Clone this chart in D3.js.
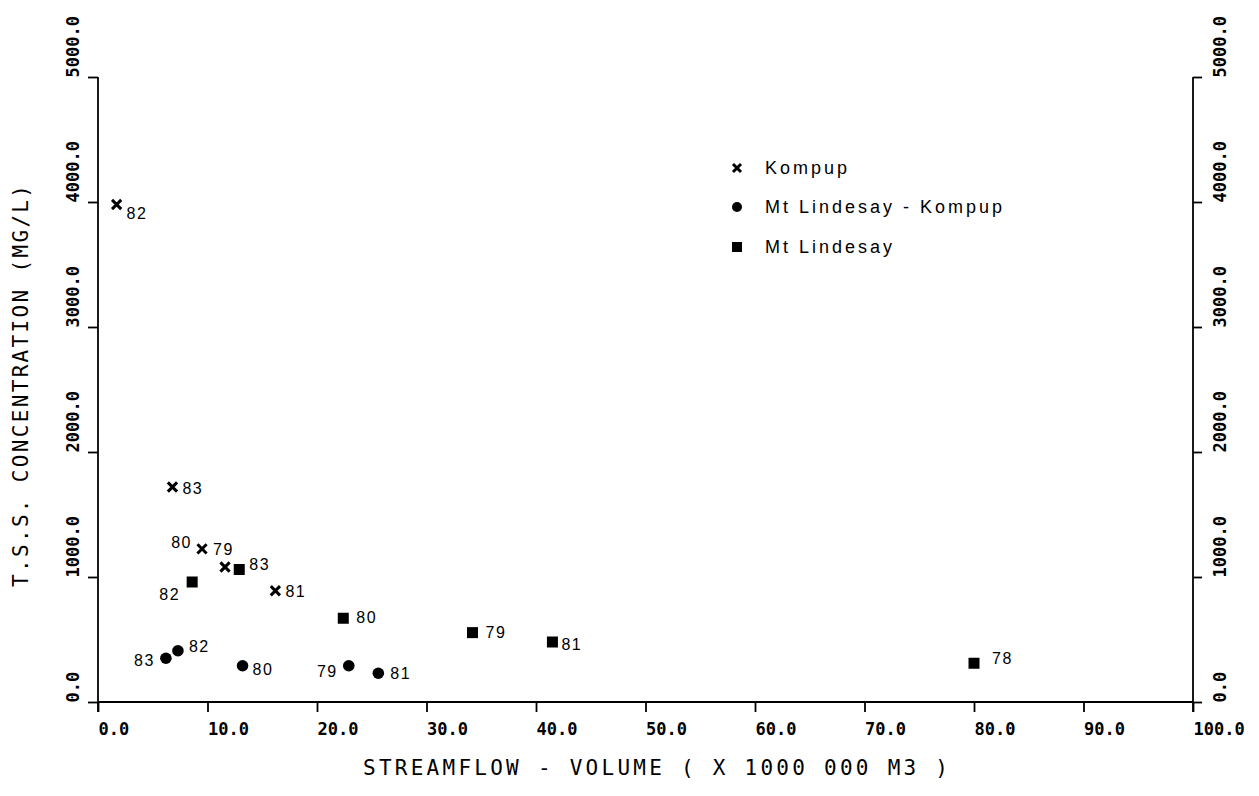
<!DOCTYPE html>
<html>
<head>
<meta charset="utf-8">
<script src="https://cdn.jsdelivr.net/npm/d3@7"></script>
<style>
  html, body { margin: 0; padding: 0; background: #fff; }
  svg { display: block; }
  .tick text { font-family: "DejaVu Sans Mono", monospace; font-size: 17px; font-weight: bold; fill: #000; }
  .plot-title { font-family: "DejaVu Sans Mono", monospace; font-size: 21px; fill: #000; }
  .pt-label { font-family: "Liberation Sans", Arial, sans-serif; font-size: 16px; letter-spacing: 1.5px; fill: #000; }
  .legend-text { font-family: "Liberation Sans", Arial, sans-serif; font-size: 18px; letter-spacing: 3px; fill: #000; }
</style>
</head>
<body>
<svg id="chart" width="1259" height="796"></svg>
<script>
// Annual streamflow volume (x 10^6 m3) against mean T.S.S. concentration (mg/L)
const kompupYears = ["82", "83", "80", "79", "81"];
const kompupFlow  = [1.7, 6.8, 9.5, 11.6, 16.2];
const kompupTss   = [3980, 1720, 1225, 1080, 890];

const mixedYears = ["83", "82", "80", "79", "81"];
const mixedFlow  = [6.2, 7.3, 13.2, 22.9, 25.6];
const mixedTss   = [350, 410, 290, 290, 230];

const lindesayYears = ["82", "83", "80", "79", "81", "78"];
const lindesayFlow  = [8.6, 12.9, 22.4, 34.2, 41.5, 80.0];
const lindesayTss   = [960, 1060, 670, 555, 480, 310];

const seriesNames = ["Kompup", "Mt Lindesay - Kompup", "Mt Lindesay"];
const xTicks = [0, 10, 20, 30, 40, 50, 60, 70, 80, 90, 100];
const yTicks = [0, 1000, 2000, 3000, 4000, 5000];

// Year-label placement around each marker: [dx, dy, anchor]
const kompupLabelPos = [[10, 9, "start"], [10, 1, "start"], [-10, -6, "end"], [-12, -18, "start"], [10, 1, "start"]];
const mixedLabelPos = [[-11, 2, "end"], [11, -4, "start"], [10, 4, "start"], [-11, 6, "end"], [12, 0, "start"]];
const lindesayLabelPos = [[-12, 12, "end"], [10, -5, "start"], [13, -1, "start"], [13, 0, "start"], [9, 2, "start"], [18, -5, "start"]];

const svg = d3.select("#chart");
const x = d3.scaleLinear().domain([0, 100]).range([98, 1193]);
const y = d3.scaleLinear().domain([0, 5000]).range([702, 77]);
const fmt = d3.format(".1f");

// Axis lines
const axisG = svg.append("g").attr("stroke", "#000").attr("stroke-width", 1.8);
axisG.append("line").attr("x1", x(0)).attr("x2", x(0)).attr("y1", y(5000)).attr("y2", y(0) + 10);
axisG.append("line").attr("x1", x(100)).attr("x2", x(100)).attr("y1", y(5000)).attr("y2", y(0) + 10);
axisG.append("line").attr("x1", x(0)).attr("x2", x(100)).attr("y1", y(0)).attr("y2", y(0));

// Bottom axis
const bottom = svg.append("g").attr("transform", `translate(0,${y(0)})`)
  .call(d3.axisBottom(x).tickValues(xTicks).tickFormat(fmt).tickSize(10).tickSizeOuter(0));
bottom.select(".domain").remove();
bottom.selectAll(".tick line").attr("stroke-width", 1.8);
bottom.selectAll(".tick text").attr("text-anchor", "start").attr("x", 0).attr("y", 33).attr("dy", 0);

// Left axis
const left = svg.append("g").attr("transform", `translate(${x(0)},0)`)
  .call(d3.axisLeft(y).tickValues(yTicks).tickFormat(fmt).tickSize(10).tickSizeOuter(0));
left.select(".domain").remove();
left.selectAll(".tick line").attr("stroke-width", 1.8);
left.selectAll(".tick text").attr("transform", "rotate(-90)")
  .attr("text-anchor", "start").attr("x", 0).attr("y", -19).attr("dy", 0);

// Right axis
const right = svg.append("g").attr("transform", `translate(${x(100)},0)`)
  .call(d3.axisRight(y).tickValues(yTicks).tickFormat(fmt).tickSize(9).tickSizeOuter(0));
right.select(".domain").remove();
right.selectAll(".tick line").attr("stroke-width", 1.8);
right.selectAll(".tick text").attr("transform", "rotate(-90)")
  .attr("text-anchor", "start").attr("x", 0).attr("y", 33).attr("dy", 0);

// Axis titles
svg.append("text").attr("class", "plot-title")
  .attr("x", 363).attr("y", 775)
  .attr("textLength", 585).attr("lengthAdjust", "spacing")
  .text("STREAMFLOW - VOLUME ( X 1000 000 M3 )");
svg.append("text").attr("class", "plot-title")
  .attr("transform", "translate(28,587) rotate(-90)")
  .attr("textLength", 402).attr("lengthAdjust", "spacing")
  .text("T.S.S. CONCENTRATION (MG/L)");

// Marker symbols
function drawCross(g, cx, cy, r) {
  g.append("path")
    .attr("d", `M${cx - r},${cy - r}L${cx + r},${cy + r}M${cx - r},${cy + r}L${cx + r},${cy - r}`)
    .attr("stroke", "#000").attr("stroke-width", 3).attr("fill", "none");
}
function drawDot(g, cx, cy, r) {
  g.append("circle").attr("cx", cx).attr("cy", cy).attr("r", r).attr("fill", "#000");
}
function drawSquare(g, cx, cy, s) {
  g.append("rect").attr("x", cx - s / 2).attr("y", cy - s / 2)
    .attr("width", s).attr("height", s).attr("fill", "#000");
}

function plotSeries(flow, tss, years, labelPos, drawFn, size) {
  const g = svg.append("g");
  flow.forEach((f, i) => {
    const cx = x(f), cy = y(tss[i]);
    drawFn(g, cx, cy, size);
    const p = labelPos[i];
    g.append("text").attr("class", "pt-label")
      .attr("x", cx + p[0]).attr("y", cy + p[1])
      .attr("dy", "0.35em")
      .attr("text-anchor", p[2])
      .text(years[i]);
  });
}

plotSeries(kompupFlow, kompupTss, kompupYears, kompupLabelPos, drawCross, 4.6);
plotSeries(mixedFlow, mixedTss, mixedYears, mixedLabelPos, drawDot, 5.8);
plotSeries(lindesayFlow, lindesayTss, lindesayYears, lindesayLabelPos, drawSquare, 11);

// Legend
const legend = svg.append("g");
const legendY = [168, 207, 247];
const legendDraw = [[drawCross, 4], [drawDot, 5], [drawSquare, 10]];
seriesNames.forEach((name, i) => {
  legendDraw[i][0](legend, 737, legendY[i], legendDraw[i][1]);
  legend.append("text").attr("class", "legend-text")
    .attr("x", 765).attr("y", legendY[i]).attr("dy", "0.36em")
    .text(name);
});
</script>
</body>
</html>
